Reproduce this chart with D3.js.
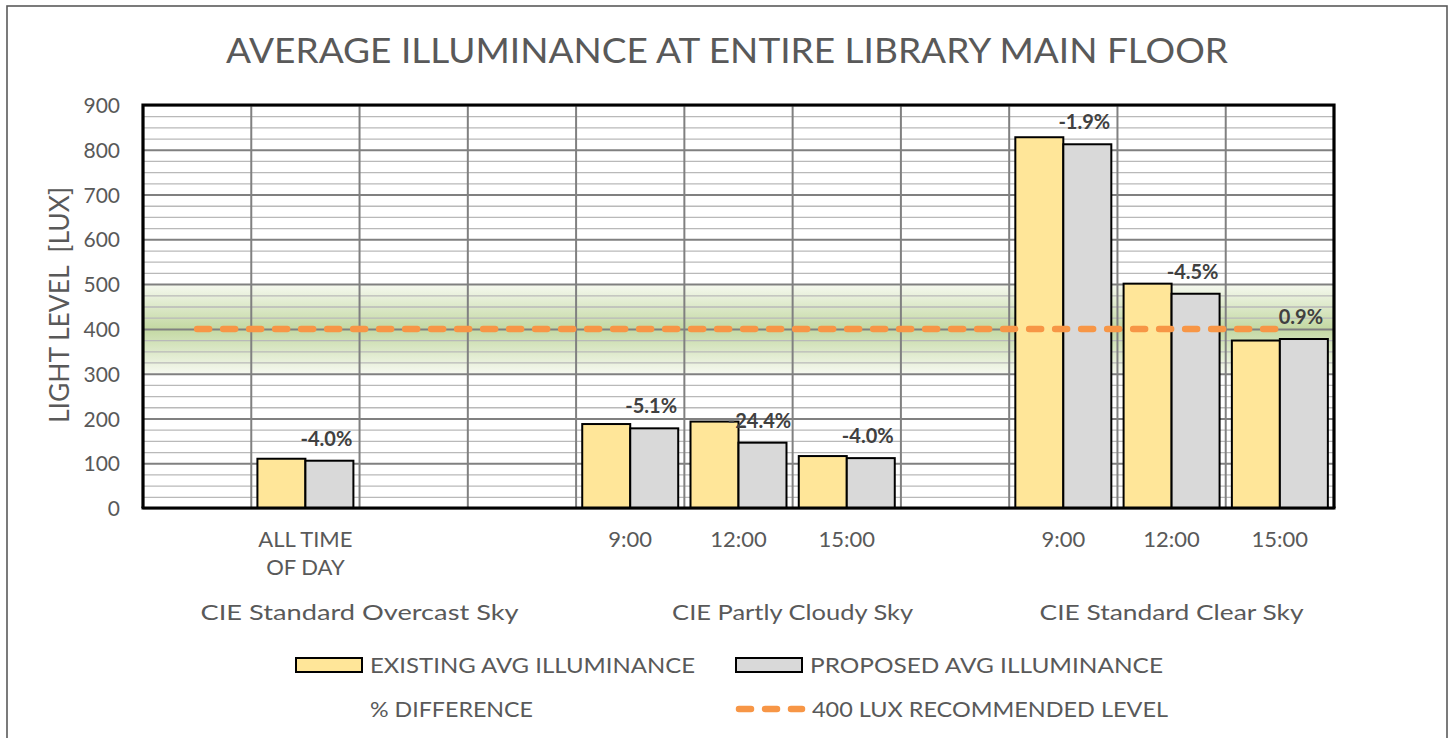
<!DOCTYPE html>
<html>
<head>
<meta charset="utf-8">
<script src="https://cdn.jsdelivr.net/npm/d3@7"></script>
<style>
  html, body { margin: 0; padding: 0; background: #ffffff; }
  svg { display: block; font-family: Lato, "Open Sans", sans-serif; }
</style>
</head>
<body>
<svg id="chart" width="1450" height="738"></svg>
<script>
// ---- data ----
const categories = ["", "ALL TIME|OF DAY", "", "", "9:00", "12:00", "15:00", "", "9:00", "12:00", "15:00"];
const groupNames = ["CIE Standard Overcast Sky", "CIE Partly Cloudy Sky", "CIE Standard Clear Sky"];
const groupSizes = [4, 4, 3];
const existing = [null, 110, null, null, 187.5, 193, 116, null, 828, 501, 374];
const proposed = [null, 105.6, null, null, 177.9, 145.9, 111.4, null, 812.3, 478.5, 377.4];
const pctDiff = [null, -4.0, null, null, -5.1, -24.4, -4.0, null, -1.9, -4.5, 0.9];
const recommended = [400, 400, 400, 400, 400, 400, 400, 400, 400, 400, 400];
const bandRange = [300, 500];
const yTicks = [0, 100, 200, 300, 400, 500, 600, 700, 800, 900];
const seriesNames = ["EXISTING AVG ILLUMINANCE", "PROPOSED AVG ILLUMINANCE", "% DIFFERENCE", "400 LUX RECOMMENDED LEVEL"];

const svg = d3.select("#chart");
const plot = { left: 143, top: 105, right: 1334, bottom: 508 };
const textColor = "#595959";

// stretch a text element to a given rendered width
function fit(sel, w) {
  sel.attr("textLength", w).attr("lengthAdjust", "spacingAndGlyphs");
  return sel;
}

// outer chart frame
svg.append("rect").attr("x", 7).attr("y", 6).attr("width", 1440).attr("height", 760)
  .attr("fill", "#fff").attr("stroke", "#5a5a5a").attr("stroke-width", 1.6);

// title
fit(svg.append("text").attr("x", 727).attr("y", 63).attr("text-anchor", "middle")
  .attr("font-size", 34).attr("fill", textColor)
  .text("AVERAGE ILLUMINANCE AT ENTIRE LIBRARY MAIN FLOOR"), 1002);

// scales
const idx = d3.range(categories.length);
const x = d3.scaleBand().domain(idx).range([plot.left, plot.right]).padding(0);
const xs = d3.scaleBand().domain(["existing", "proposed"]).range([0, x.bandwidth()])
  .paddingInner(0).paddingOuter(0.128);
const y = d3.scaleLinear().domain([0, 900]).range([plot.bottom, plot.top]);

// recommended band (300–500 lux) with vertical gradient
const defs = svg.append("defs");
const grad = defs.append("linearGradient").attr("id", "band").attr("x1", 0).attr("y1", 0).attr("x2", 0).attr("y2", 1);
grad.append("stop").attr("offset", "0%").attr("stop-color", "#f6f9f0");
grad.append("stop").attr("offset", "50%").attr("stop-color", "#c3d8a2");
grad.append("stop").attr("offset", "100%").attr("stop-color", "#f6f9f0");
svg.append("rect").attr("x", plot.left).attr("width", plot.right - plot.left)
  .attr("y", y(bandRange[1])).attr("height", y(bandRange[0]) - y(bandRange[1]))
  .attr("fill", "url(#band)");

// minor horizontal gridlines
const minor = d3.range(25, 900, 25).filter(v => v % 100 !== 0);
svg.append("g").attr("transform", `translate(${plot.left},0)`)
  .call(d3.axisLeft(y).tickValues(minor).tickSize(-(plot.right - plot.left)).tickFormat(""))
  .call(g => g.select(".domain").remove())
  .call(g => g.selectAll("line").attr("stroke", "#b9b9b9").attr("stroke-width", 1.3));

// major horizontal gridlines + tick labels
svg.append("g").attr("transform", `translate(${plot.left},0)`)
  .call(d3.axisLeft(y).tickValues(yTicks).tickSize(-(plot.right - plot.left)).tickPadding(23))
  .call(g => g.select(".domain").remove())
  .call(g => g.selectAll("line").attr("stroke", "#808080").attr("stroke-width", 2))
  .call(g => g.selectAll("text").attr("font-size", 21).attr("fill", textColor)
    .attr("font-family", "Lato, sans-serif").attr("dy", "0.36em"));

// vertical gridlines at category boundaries
svg.append("g").selectAll("line").data(idx.slice(1)).join("line")
  .attr("x1", d => x(d)).attr("x2", d => x(d))
  .attr("y1", plot.top).attr("y2", plot.bottom)
  .attr("stroke", "#808080").attr("stroke-width", 2);

// bars
const barData = [];
idx.forEach(i => {
  if (existing[i] != null) barData.push({ i, key: "existing", v: existing[i] });
  if (proposed[i] != null) barData.push({ i, key: "proposed", v: proposed[i] });
});
svg.append("g").selectAll("rect").data(barData).join("rect")
  .attr("x", d => x(d.i) + xs(d.key))
  .attr("width", xs.bandwidth())
  .attr("y", d => y(d.v))
  .attr("height", d => y(0) - y(d.v))
  .attr("fill", d => d.key === "existing" ? "#ffe699" : "#d9d9d9")
  .attr("stroke", "#000").attr("stroke-width", 2);

// 400 lux recommended line
const line = d3.line().x(d => x(d.i) + x.bandwidth() / 2).y(d => y(d.v));
svg.append("path").datum(idx.map(i => ({ i, v: recommended[i] })))
  .attr("d", line).attr("fill", "none")
  .attr("stroke", "#f79646").attr("stroke-width", 6.5)
  .attr("stroke-linecap", "round").attr("stroke-dasharray", "12 14");

// plot frame
svg.append("path")
  .attr("d", `M${plot.left},${plot.bottom}V${plot.top}H${plot.right}V${plot.bottom}`)
  .attr("fill", "none").attr("stroke", "#000").attr("stroke-width", 3.2);
svg.append("line").attr("x1", plot.left - 1.5).attr("x2", plot.right + 1.5)
  .attr("y1", y(0)).attr("y2", y(0)).attr("stroke", "#000").attr("stroke-width", 3);

// % difference labels
const fmtPct = v => v.toFixed(1) + "%";
svg.append("g").selectAll("text")
  .data(idx.filter(i => pctDiff[i] != null)).join("text")
  .attr("x", i => x(i) + xs("proposed") + xs.bandwidth() / 2 - 3)
  .attr("y", i => y(proposed[i]) - 15)
  .attr("text-anchor", "middle").attr("font-size", 20).attr("font-weight", "bold")
  .attr("fill", "#404040")
  .text(i => fmtPct(pctDiff[i]));

// category labels
const catG = svg.append("g");
idx.forEach(i => {
  if (!categories[i]) return;
  const lines = categories[i].split("|");
  const t = catG.append("text").attr("x", x(i) + x.bandwidth() / 2).attr("y", 547)
    .attr("text-anchor", "middle").attr("font-size", 22).attr("fill", textColor);
  lines.forEach((s, k) => t.append("tspan").attr("x", x(i) + x.bandwidth() / 2)
    .attr("dy", k === 0 ? 0 : 28).text(s));
});

// group labels
const groupWidths = [318, 241, 264];
let start = 0;
groupNames.forEach((name, g) => {
  const a = x(start), b = x(start + groupSizes[g] - 1) + x.bandwidth();
  fit(svg.append("text").attr("x", (a + b) / 2).attr("y", 620).attr("text-anchor", "middle")
    .attr("font-size", 22).attr("fill", textColor).text(name), groupWidths[g]);
  start += groupSizes[g];
});

// y-axis title
fit(svg.append("text").attr("transform", "translate(69,305) rotate(-90)")
  .attr("text-anchor", "middle").attr("font-size", 27).attr("fill", textColor)
  .attr("xml:space", "preserve")
  .text("LIGHT LEVEL \u00a0[LUX]"), 236);

// legend
const leg = svg.append("g");
const legItems = [
  { name: seriesNames[0], sx: 296, tx: 370, y: 665, w: 325, type: "bar", fill: "#ffe699" },
  { name: seriesNames[1], sx: 736, tx: 810, y: 665, w: 353, type: "bar", fill: "#d9d9d9" },
  { name: seriesNames[2], sx: 296, tx: 370, y: 709, w: 163, type: "none" },
  { name: seriesNames[3], sx: 736, tx: 812, y: 709, w: 356, type: "line" }
];
legItems.forEach(d => {
  if (d.type === "bar") {
    leg.append("rect").attr("x", d.sx).attr("y", d.y - 7).attr("width", 66).attr("height", 14)
      .attr("fill", d.fill).attr("stroke", "#000").attr("stroke-width", 2);
  } else if (d.type === "line") {
    leg.append("line").attr("x1", d.sx + 3).attr("x2", d.sx + 66).attr("y1", d.y).attr("y2", d.y)
      .attr("stroke", "#f79646").attr("stroke-width", 6.5).attr("stroke-linecap", "round")
      .attr("stroke-dasharray", "12 14");
  }
  fit(leg.append("text").attr("x", d.tx).attr("y", d.y + 8).attr("font-size", 22)
    .attr("fill", textColor).text(d.name), d.w);
});
</script>
</body>
</html>
